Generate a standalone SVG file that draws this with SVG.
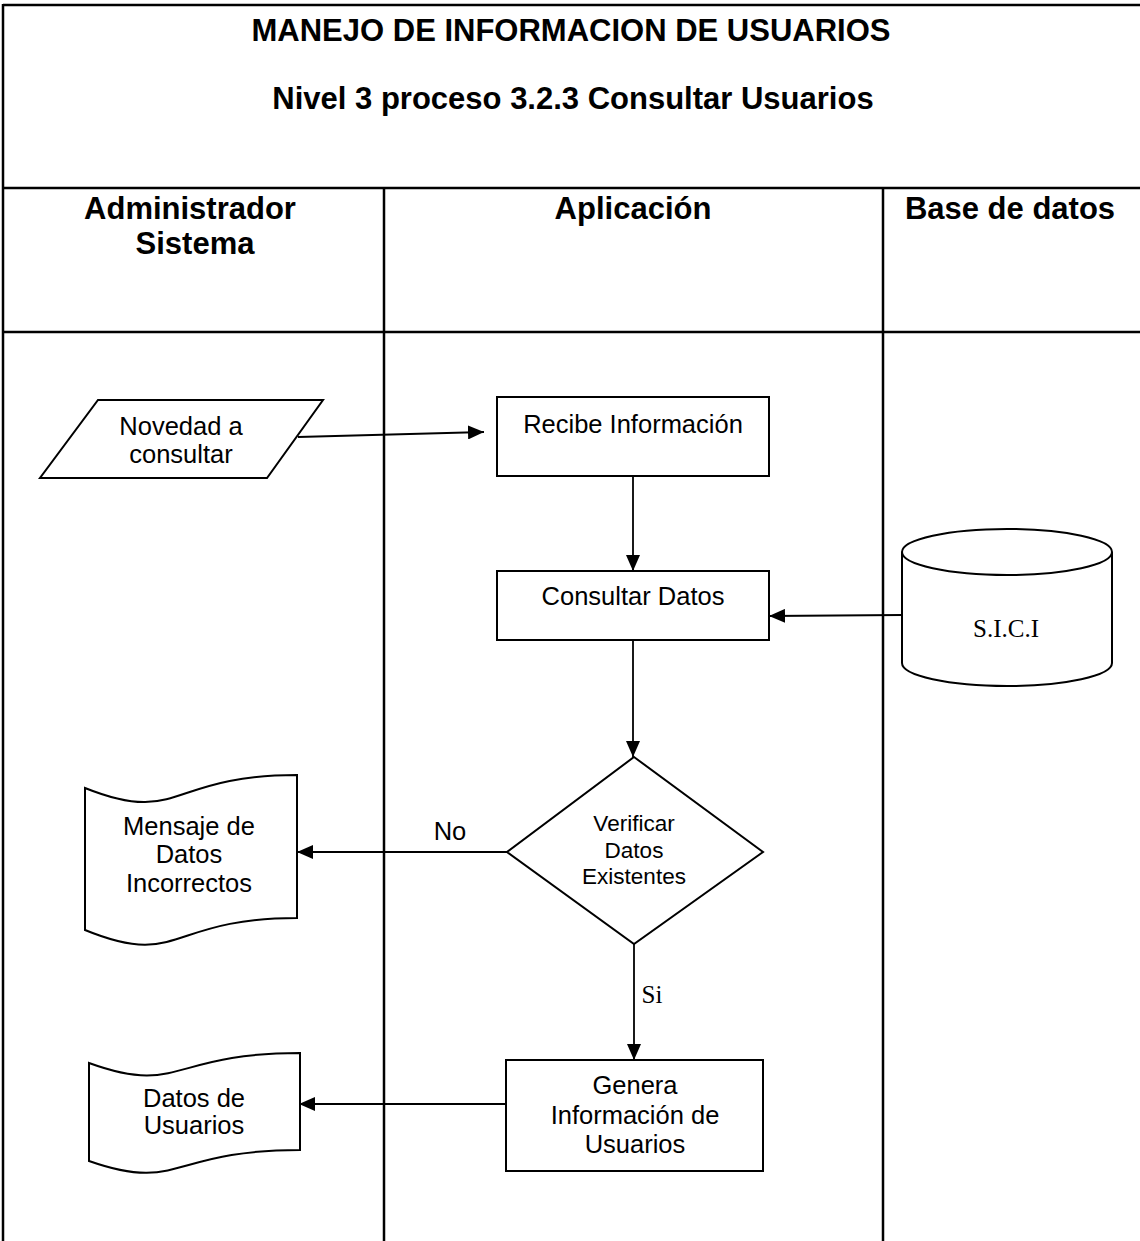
<svg xmlns="http://www.w3.org/2000/svg" width="1140" height="1241" viewBox="0 0 1140 1241">
<style>
.lane{stroke:#000;stroke-width:2.5;fill:none}
.shape{stroke:#000;stroke-width:2;fill:#fff}
.conn{stroke:#000;stroke-width:1.8;fill:none;marker-end:url(#arr)}
.hd{font-family:"Liberation Sans",Arial,sans-serif;font-weight:bold;font-size:31px;text-anchor:middle;fill:#000}
.tx{font-family:"Liberation Sans",Arial,sans-serif;font-size:25.5px;text-anchor:middle;fill:#000}
.sm{font-family:"Liberation Sans",Arial,sans-serif;font-size:22.5px;text-anchor:middle;fill:#000}
.sf{font-family:"Liberation Serif","Times New Roman",serif;font-size:25px;text-anchor:middle;fill:#000}
</style>
<defs>
<marker id="arr" markerWidth="16" markerHeight="14" refX="16" refY="7" orient="auto" markerUnits="userSpaceOnUse">
<path d="M0,0 L16,7 L0,14 Z" fill="#000"/>
</marker>
</defs>
<rect width="1140" height="1241" fill="#fff"/>
<g id="swimlanes">
<line class="lane" x1="3" y1="5" x2="1140" y2="5"/>
<line class="lane" x1="3" y1="4" x2="3" y2="1241"/>
<line class="lane" x1="3" y1="188" x2="1140" y2="188"/>
<line class="lane" x1="3" y1="332" x2="1140" y2="332"/>
<line class="lane" x1="384" y1="188" x2="384" y2="1241"/>
<line class="lane" x1="883" y1="188" x2="883" y2="1241"/>
<text class="hd" x="571" y="41">MANEJO DE INFORMACION DE USUARIOS</text>
<text class="hd" x="573" y="109">Nivel 3 proceso 3.2.3 Consultar Usuarios</text>
<text class="hd" x="190" y="219">Administrador</text>
<text class="hd" x="195" y="254">Sistema</text>
<text class="hd" x="633" y="219">Aplicación</text>
<text class="hd" x="1010" y="219">Base de datos</text>
</g>
<g id="connectors">
<line class="conn" x1="298" y1="437" x2="484" y2="432"/>
<line class="conn" x1="633" y1="476" x2="633" y2="571"/>
<line class="conn" x1="902" y1="615" x2="769" y2="616"/>
<line class="conn" x1="633" y1="640" x2="633" y2="757"/>
<line class="conn" x1="507" y1="852" x2="297" y2="852"/>
<line class="conn" x1="634" y1="944" x2="634" y2="1060"/>
<line class="conn" x1="506" y1="1104" x2="299" y2="1104"/>
<text class="tx" x="450" y="840">No</text>
<text class="sf" x="652" y="1003">Si</text>
</g>
<g id="novedad">
<polygon class="shape" points="98,400 323,400 267,478 40,478"/>
<text class="tx" x="181" y="435">Novedad a</text>
<text class="tx" x="181" y="463">consultar</text>
</g>
<g id="recibe">
<rect class="shape" x="497" y="397" width="272" height="79"/>
<text class="tx" x="633" y="433">Recibe Información</text>
</g>
<g id="consultar">
<rect class="shape" x="497" y="571" width="272" height="69"/>
<text class="tx" x="633" y="605">Consultar Datos</text>
</g>
<g id="sici">
<path class="shape" d="M902,552 A105,23 0 0 1 1112,552 L1112,663 A105,23 0 0 1 902,663 Z"/>
<path class="shape" d="M902,552 A105,23 0 0 0 1112,552" fill="none"/>
<text class="sf" x="1006" y="637">S.I.C.I</text>
</g>
<g id="verificar">
<polygon class="shape" points="634,757 763,852 634,944 507,852"/>
<text class="sm" x="634" y="831">Verificar</text>
<text class="sm" x="634" y="858">Datos</text>
<text class="sm" x="634" y="884">Existentes</text>
</g>
<g id="mensaje">
<path class="shape" d="M85,788 C180,826 168,775 297,775 L297,918 C168,918 180,969 85,930 Z"/>
<text class="tx" x="189" y="835">Mensaje de</text>
<text class="tx" x="189" y="863">Datos</text>
<text class="tx" x="189" y="892">Incorrectos</text>
</g>
<g id="genera">
<rect class="shape" x="506" y="1060" width="257" height="111"/>
<text class="tx" x="635" y="1094">Genera</text>
<text class="tx" x="635" y="1124">Información de</text>
<text class="tx" x="635" y="1153">Usuarios</text>
</g>
<g id="datosusuarios">
<path class="shape" d="M89,1063 C180,1096 170,1053 300,1053 L300,1150 C170,1150 180,1193 89,1161 Z"/>
<text class="tx" x="194" y="1107">Datos de</text>
<text class="tx" x="194" y="1134">Usuarios</text>
</g>
</svg>
